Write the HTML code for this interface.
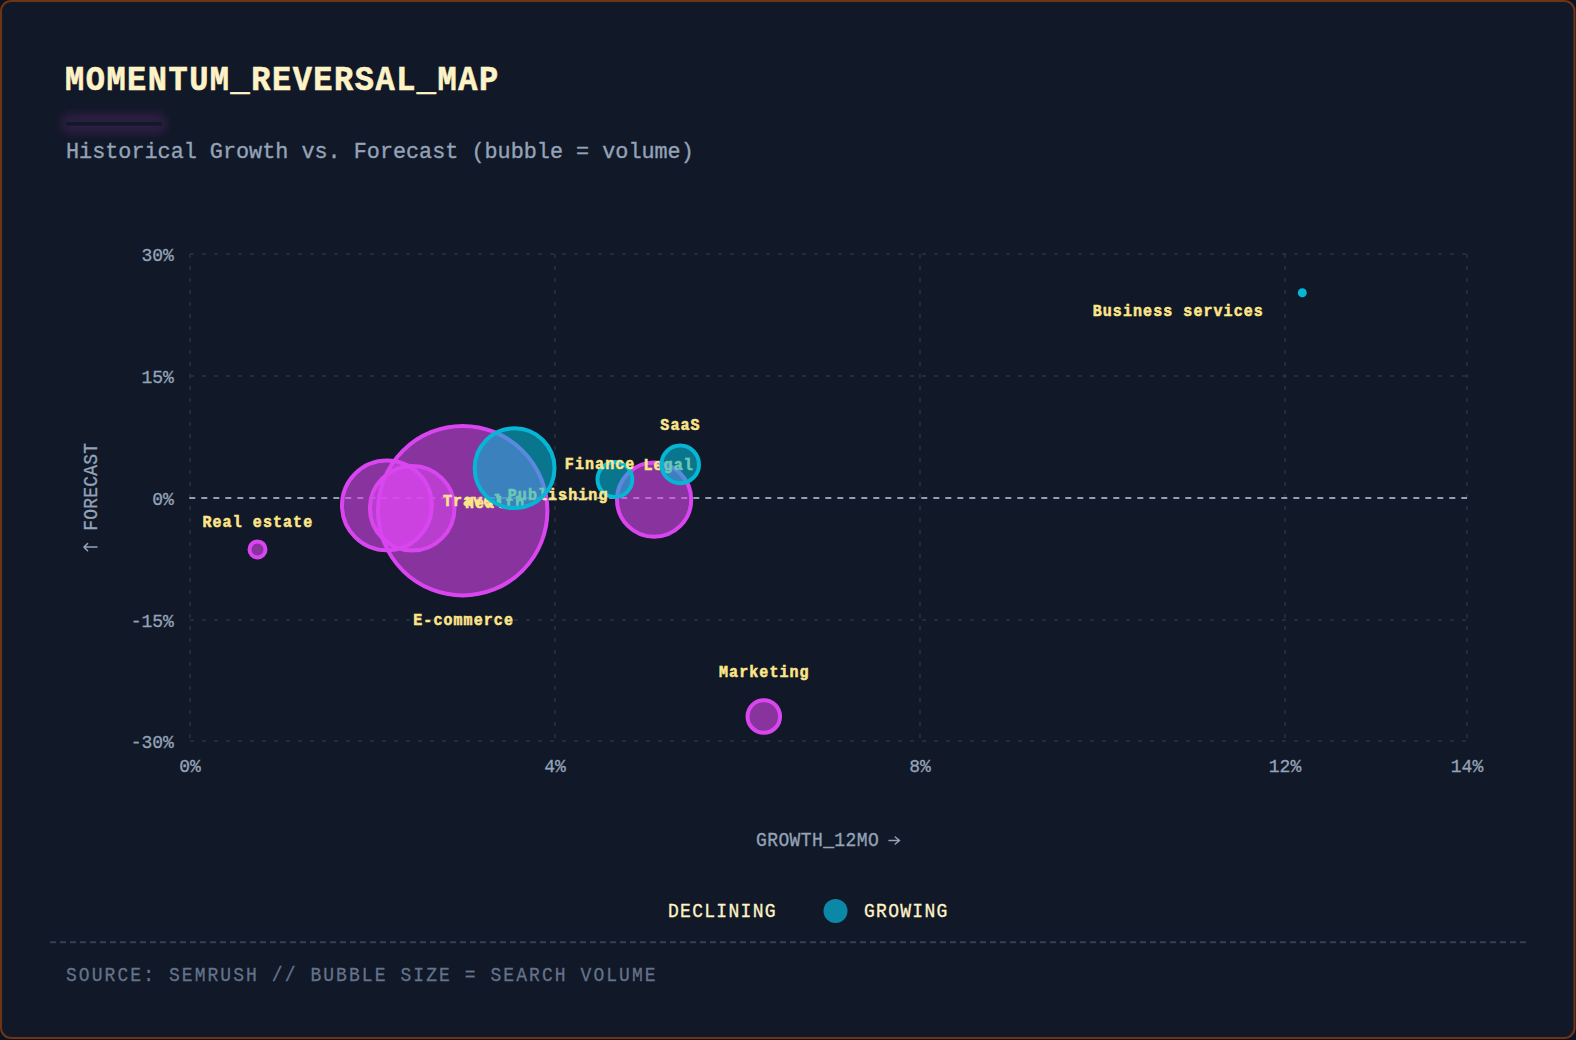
<!DOCTYPE html>
<html>
<head>
<meta charset="utf-8">
<style>
html,body{margin:0;padding:0;width:1576px;height:1040px;overflow:hidden;background:#0c1220;}
svg{display:block;position:absolute;left:0;top:0;}
text{font-family:"Liberation Mono",monospace;}
.lbl{font-size:15px;font-weight:700;letter-spacing:1.08px;}
.lbl{fill:#fde68a;stroke:#fde68a;stroke-width:0.5px;}
</style>
</head>
<body>
<svg width="1576" height="1040" viewBox="0 0 1576 1040">
<defs>
<filter id="glow" x="-50%" y="-300%" width="200%" height="700%"><feGaussianBlur stdDeviation="4"/></filter>
</defs>
<rect x="1" y="1" width="1573.5" height="1037" rx="10" ry="10" fill="#111827" stroke="#6e3414" stroke-width="2"/>
<text transform="translate(65 90) scale(1 1.1)" text-anchor="start" style="font-size:32px;font-weight:700;letter-spacing:1.5px;fill:#fef3c7;stroke:#fef3c7;stroke-width:0.6px">MOMENTUM_REVERSAL_MAP</text>
<rect x="61" y="113" width="106" height="21" rx="9" fill="#d946ef" opacity="0.13" filter="url(#glow)"/>
<rect x="66" y="122" width="96" height="3.5" fill="#111827"/>
<text transform="translate(66 158) scale(1 1.04)" text-anchor="start" style="font-size:21.8px;fill:#94a3b8;stroke:#94a3b8;stroke-width:0.35px">Historical Growth vs. Forecast (bubble = volume)</text>
<g stroke="#364152" stroke-width="1" stroke-dasharray="4 8" fill="none">
<line x1="190" y1="254" x2="1467" y2="254"/>
<line x1="190" y1="376" x2="1467" y2="376"/>
<line x1="190" y1="620" x2="1467" y2="620"/>
<line x1="190" y1="741" x2="1467" y2="741"/>
<line x1="190" y1="254" x2="190" y2="741"/>
<line x1="555" y1="254" x2="555" y2="741"/>
<line x1="920" y1="254" x2="920" y2="741"/>
<line x1="1285" y1="254" x2="1285" y2="741"/>
<line x1="1467" y1="254" x2="1467" y2="741"/>
</g>
<line x1="189.3" y1="498" x2="1467" y2="498" stroke="#909fb6" stroke-width="2" stroke-dasharray="6 6"/>
<text transform="translate(173.8 261) scale(1 1.06)" text-anchor="end" style="font-size:18px;fill:#94a3b8;stroke:#94a3b8;stroke-width:0.3px">30%</text>
<text transform="translate(173.8 383) scale(1 1.06)" text-anchor="end" style="font-size:18px;fill:#94a3b8;stroke:#94a3b8;stroke-width:0.3px">15%</text>
<text transform="translate(173.8 504.7) scale(1 1.06)" text-anchor="end" style="font-size:18px;fill:#94a3b8;stroke:#94a3b8;stroke-width:0.3px">0%</text>
<text transform="translate(173.8 626.5) scale(1 1.06)" text-anchor="end" style="font-size:18px;fill:#94a3b8;stroke:#94a3b8;stroke-width:0.3px">-15%</text>
<text transform="translate(173.8 748) scale(1 1.06)" text-anchor="end" style="font-size:18px;fill:#94a3b8;stroke:#94a3b8;stroke-width:0.3px">-30%</text>
<text transform="translate(190 772.4) scale(1 1.06)" text-anchor="middle" style="font-size:18px;fill:#94a3b8;stroke:#94a3b8;stroke-width:0.3px">0%</text>
<text transform="translate(555 772.4) scale(1 1.06)" text-anchor="middle" style="font-size:18px;fill:#94a3b8;stroke:#94a3b8;stroke-width:0.3px">4%</text>
<text transform="translate(920 772.4) scale(1 1.06)" text-anchor="middle" style="font-size:18px;fill:#94a3b8;stroke:#94a3b8;stroke-width:0.3px">8%</text>
<text transform="translate(1285 772.4) scale(1 1.06)" text-anchor="middle" style="font-size:18px;fill:#94a3b8;stroke:#94a3b8;stroke-width:0.3px">12%</text>
<text transform="translate(1467 772.4) scale(1 1.06)" text-anchor="middle" style="font-size:18px;fill:#94a3b8;stroke:#94a3b8;stroke-width:0.3px">14%</text>
<text transform="translate(756 846) scale(1 1.1)" text-anchor="start" style="font-size:18px;letter-spacing:0.4px;fill:#94a3b8;stroke:#94a3b8;stroke-width:0.3px">GROWTH_12MO</text>
<path d="M889 840.5H899.6M895.2 837L899.6 840.5L895.2 844" fill="none" stroke="#94a3b8" stroke-width="1.5" stroke-linecap="round" stroke-linejoin="round"/>
<g transform="translate(96.9 442.8) rotate(-90)"><text transform="translate(0 0) scale(1 1.1)" text-anchor="end" style="font-size:18px;letter-spacing:0.2px;fill:#94a3b8;stroke:#94a3b8;stroke-width:0.3px">FORECAST</text></g>
<path d="M97 547.1H84M87.6 543.5L84 547.1L87.6 550.7" fill="none" stroke="#94a3b8" stroke-width="1.5" stroke-linecap="round" stroke-linejoin="round"/>
<circle cx="257.5" cy="549.4" r="8.00" fill="#d946ef" fill-opacity="0.6" stroke="#d946ef" stroke-width="4"/>
<circle cx="386.9" cy="505.4" r="44.90" fill="#d946ef" fill-opacity="0.6" stroke="#d946ef" stroke-width="4"/>
<circle cx="412.2" cy="508.2" r="42.30" fill="#d946ef" fill-opacity="0.6" stroke="#d946ef" stroke-width="4"/>
<circle cx="462.7" cy="510.7" r="84.70" fill="#d946ef" fill-opacity="0.6" stroke="#d946ef" stroke-width="4"/>
<circle cx="763.8" cy="716.5" r="16.25" fill="#d946ef" fill-opacity="0.6" stroke="#d946ef" stroke-width="4"/>
<circle cx="654.1" cy="499.7" r="37.10" fill="#d946ef" fill-opacity="0.6" stroke="#d946ef" stroke-width="4"/>
<text transform="translate(257.85 526.7) scale(1 1.1)" text-anchor="middle" style="" class="lbl">Real estate</text>
<text transform="translate(473.1 506.09999999999997) scale(1 1.1)" text-anchor="middle" style="" class="lbl">Travel</text>
<text transform="translate(495.1 507.8) scale(1 1.1)" text-anchor="middle" style="" class="lbl">Health</text>
<text transform="translate(463.6 624.7) scale(1 1.1)" text-anchor="middle" style="" class="lbl">E-commerce</text>
<text transform="translate(764.35 676.6) scale(1 1.1)" text-anchor="middle" style="" class="lbl">Marketing</text>
<text transform="translate(668.6 470.4) scale(1 1.1)" text-anchor="middle" style="" class="lbl">Legal</text>
<circle cx="614.9" cy="479.5" r="17.40" fill="#06b6d4" fill-opacity="0.6" stroke="#06b6d4" stroke-width="4"/>
<text transform="translate(600.1 468.5) scale(1 1.1)" text-anchor="middle" style="" class="lbl">Finance</text>
<text transform="translate(558.1 499.8) scale(1 1.1)" text-anchor="middle" style="" class="lbl">Publishing</text>
<circle cx="514.6" cy="468.2" r="39.90" fill="#06b6d4" fill-opacity="0.6" stroke="#06b6d4" stroke-width="4"/>
<circle cx="680.2" cy="464.4" r="18.80" fill="#06b6d4" fill-opacity="0.6" stroke="#06b6d4" stroke-width="4"/>
<circle cx="1302.3" cy="292.8" r="4.5" fill="#06b6d4"/>
<text transform="translate(680.5 429.5) scale(1 1.1)" text-anchor="middle" style="" class="lbl">SaaS</text>
<text transform="translate(1178.3 315.59999999999997) scale(1 1.1)" text-anchor="middle" style="" class="lbl">Business services</text>
<text transform="translate(668 917.1) scale(1 1.1)" text-anchor="start" style="font-size:18px;letter-spacing:1.3px;fill:#fef3c7;stroke:#fef3c7;stroke-width:0.3px">DECLINING</text>
<circle cx="835.5" cy="911" r="12" fill="#0b88a6"/>
<text transform="translate(864 917.1) scale(1 1.1)" text-anchor="start" style="font-size:18px;letter-spacing:1.3px;fill:#fef3c7;stroke:#fef3c7;stroke-width:0.3px">GROWING</text>
<line x1="50" y1="942.3" x2="1527" y2="942.3" stroke="#334155" stroke-width="2" stroke-dasharray="6 4"/>
<text transform="translate(66 981.1) scale(1 1.1)" text-anchor="start" style="font-size:18px;letter-spacing:2.07px;fill:#64748b;stroke:#64748b;stroke-width:0.25px">SOURCE: SEMRUSH // BUBBLE SIZE = SEARCH VOLUME</text>
</svg>
</body>
</html>
